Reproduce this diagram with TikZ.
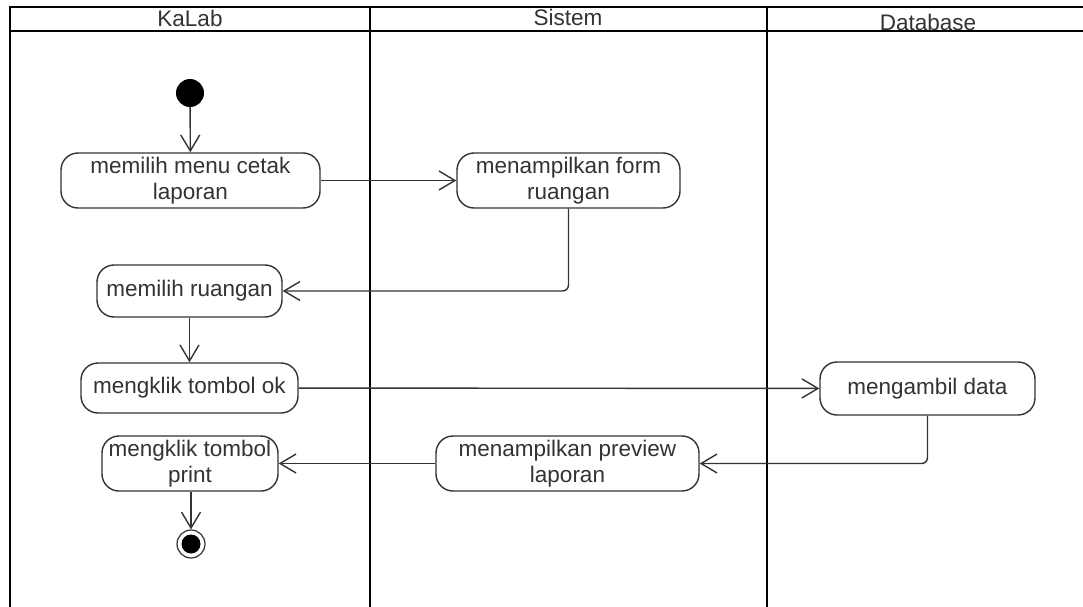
\documentclass[tikz,border=0pt]{standalone}
\usepackage{fontspec}
\setmainfont{Liberation Sans}
\usetikzlibrary{arrows.meta}
\definecolor{ink}{HTML}{333333}
\begin{document}
\begin{tikzpicture}[x=1pt,y=-1pt,
  lane/.style={line width=2.6pt,black},
  hdr/.style={font=\fontsize{22.5}{26}\selectfont,text=ink,inner sep=0pt},
  act/.style={draw=ink,line width=1.4pt,rounded corners=17pt,fill=white,
    font=\fontsize{22.5}{26}\selectfont,text=ink,align=center,inner sep=0pt},
  flow/.style={draw=ink,line width=1.4pt,rounded corners=6pt,
    -{Straight Barb[length=16pt,width=19pt,line width=1.4pt]}},
  startdot/.style={circle,fill=black,minimum size=28pt,inner sep=0pt},
  enddot/.style={circle,draw=ink,line width=1.2pt,fill=white,minimum size=28pt,inner sep=0pt}]
\useasboundingbox (0,0) rectangle (1083,607);
\fill[white] (0,0) rectangle (1083,607);

% swimlane frame
\draw[lane] (10,607) -- (10,7) -- (1083,7);
\draw[lane] (10,31) -- (1083,31);
\draw[lane] (370,7) -- (370,607);
\draw[lane] (767,7) -- (767,607);
\node[hdr] (hkalab) at (190,18) {KaLab};
\node[hdr] (hsistem) at (568,17) {Sistem};
\node[hdr] (hdb) at (928,22) {Database};

% activities
\node[startdot] (start) at (190,93) {};
\node[act,minimum width=259pt,minimum height=55pt] (menu) at (190.5,180.5) {memilih menu cetak\\laporan};
\node[act,minimum width=223pt,minimum height=55pt] (form) at (568.5,180.5) {menampilkan form\\ruangan};
\node[act,minimum width=185pt,minimum height=52pt] (ruang) at (189.5,291) {memilih ruangan};
\node[act,minimum width=217pt,minimum height=50pt] (ok) at (189.5,388) {mengklik tombol ok};
\node[act,minimum width=215pt,minimum height=53pt] (ambil) at (927.5,388.5) {mengambil data};
\node[act,minimum width=263pt,minimum height=55pt] (preview) at (567.5,463.5) {menampilkan preview\\laporan};
\node[act,minimum width=176pt,minimum height=55pt] (print) at (190,463.5) {mengklik tombol\\print};
\node[enddot] (stop) at (191,544) {};
\fill[black] (stop.center) circle (9.5pt);

% control flow
\draw[flow] (start) -- (menu);
\draw[flow] (menu) -- (form);
\draw[flow] (form.south) |- (ruang.east);
\draw[flow] (ruang) -- (ok);
\draw[flow] (ok) -- (ambil);
\draw[flow] (ambil.south) |- (preview.east);
\draw[flow] (preview) -- (print);
\draw[flow] (print.south -| stop) -- (stop.north);
\end{tikzpicture}
\end{document}
